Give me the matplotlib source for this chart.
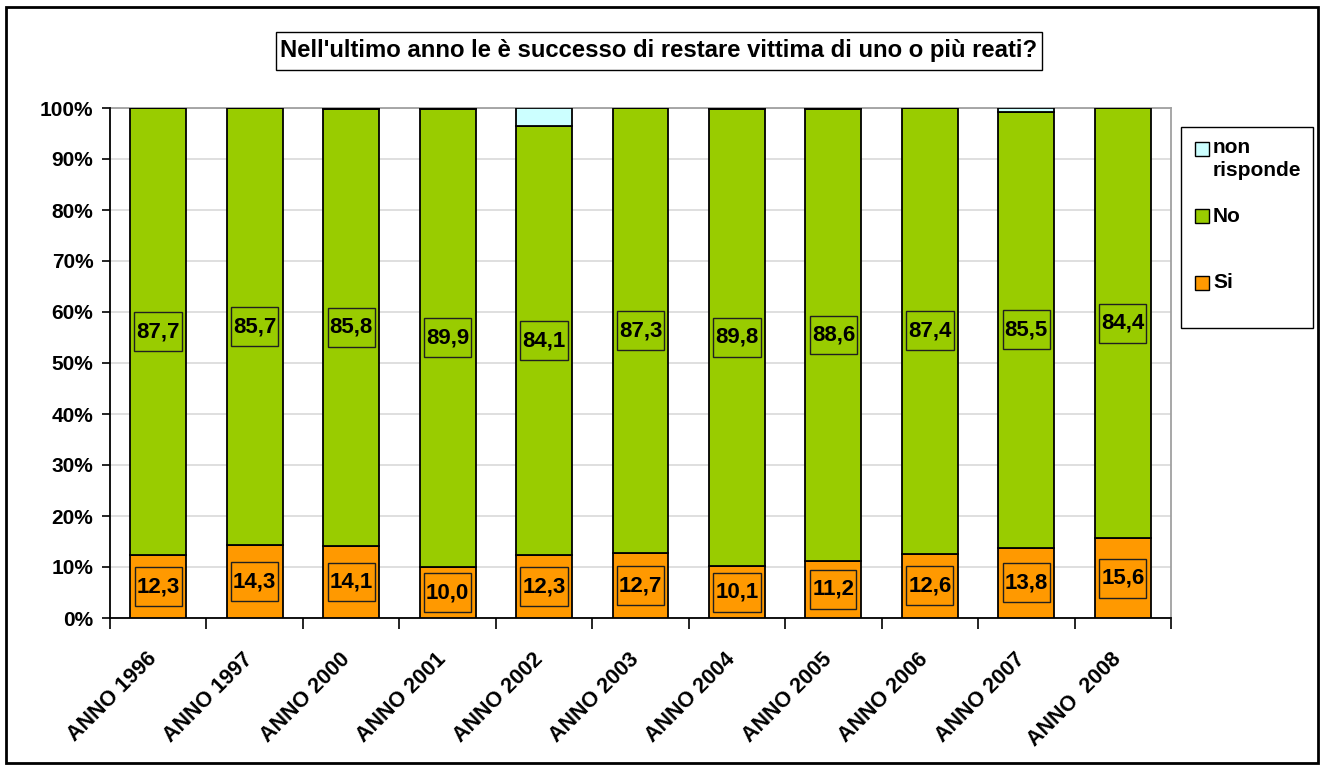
import matplotlib
matplotlib.use("Agg")
import matplotlib.pyplot as plt
from matplotlib.patches import Rectangle
from matplotlib.path import Path
import matplotlib.transforms as mtransforms
import numpy as np

plt.rcParams['font.family'] = ['Liberation Sans', 'DejaVu Sans']
plt.rcParams['font.weight'] = 'bold'

categories = ["ANNO 1996", "ANNO 1997", "ANNO 2000", "ANNO 2001", "ANNO 2002",
              "ANNO 2003", "ANNO 2004", "ANNO 2005", "ANNO 2006", "ANNO 2007", "ANNO  2008"]
si = [12.3, 14.3, 14.1, 10.0, 12.3, 12.7, 10.1, 11.2, 12.6, 13.8, 15.6]
no = [87.7, 85.7, 85.8, 89.9, 84.1, 87.3, 89.8, 88.6, 87.4, 85.5, 84.4]
non_risponde = [0.0, 0.0, 0.1, 0.1, 3.6, 0.0, 0.1, 0.2, 0.0, 0.7, 0.0]
title = "Nell'ultimo anno le è successo di restare vittima di uno o più reati?"
colors = {"Si": "#FF9900", "No": "#99CC00", "non": "#CCFFFF"}


def make_box(padx, pady):
    def box(x0, y0, width, height, mutation_size):
        px = padx * mutation_size
        py = pady * mutation_size
        x0, y0 = x0 - px, y0 - py
        x1, y1 = x0 + width + 2 * px, y0 + height + 2 * py
        return Path([(x0, y0), (x1, y0), (x1, y1), (x0, y1), (x0, y0)], closed=True)
    return box


W, H = 1322, 767
fig = plt.figure(figsize=(W / 100, H / 100), dpi=100)
ax = fig.add_axes([110 / W, 1 - 618 / H, (1171 - 110) / W, (618 - 108) / H])

x = np.arange(len(categories))
bw = 0.58
si_a = np.array(si); no_a = np.array(no); nr_a = np.array(non_risponde)
tot = si_a + no_a + nr_a
si_p = si_a / tot * 100
no_p = no_a / tot * 100
nr_p = nr_a / tot * 100

ax.bar(x, si_p, bw, color=colors["Si"], edgecolor="black", linewidth=1.3, zorder=3)
ax.bar(x, no_p, bw, bottom=si_p, color=colors["No"], edgecolor="black", linewidth=1.3, zorder=3)
ax.bar(x, nr_p, bw, bottom=si_p + no_p, color=colors["non"], edgecolor="black", linewidth=1.3, zorder=3)

lblbox = dict(boxstyle=make_box(0.09, 0.4), facecolor="none", edgecolor="#202020", linewidth=1)
for i in range(len(x)):
    ax.text(x[i], si_p[i] / 2, f"{si[i]:.1f}".replace(".", ","), ha="center", va="center",
            fontsize=16, fontweight="bold", bbox=lblbox, zorder=5)
    ax.text(x[i], si_p[i] + no_p[i] / 2, f"{no[i]:.1f}".replace(".", ","), ha="center", va="center",
            fontsize=16, fontweight="bold", bbox=lblbox, zorder=5)

ax.set_xlim(-0.5, len(categories) - 0.5)
ax.set_ylim(0, 100)
ax.set_yticks(np.arange(0, 101, 10))
ax.set_yticklabels([f"{v}%" for v in range(0, 101, 10)], fontsize=15, fontweight="bold")
ax.yaxis.grid(True, color="#d9d9d9", linewidth=1.2, zorder=0)
ax.set_axisbelow(True)

ax.set_xticks(x)
ax.set_xticklabels(categories, rotation=45, ha="right", va="top", rotation_mode="anchor",
                   fontsize=15.5, fontweight="bold")
ax.tick_params(axis="x", which="major", length=0, pad=22)
off = mtransforms.ScaledTranslation(-12 / 100, 0, fig.dpi_scale_trans)
for lbl in ax.get_xticklabels():
    lbl.set_transform(lbl.get_transform() + off)
ax.set_xticks(np.arange(-0.5, len(categories), 1.0), minor=True)
ax.tick_params(axis="x", which="minor", length=8, width=1.2, color="black", direction="out")
ax.tick_params(axis="y", which="major", length=6, width=1.2, color="black", pad=6)

for s in ["left", "bottom"]:
    ax.spines[s].set_color("black")
    ax.spines[s].set_linewidth(1.3)
ax.spines["right"].set_color("#a0a0a0")
ax.spines["top"].set_color("#a0a0a0")
ax.spines["right"].set_linewidth(1.3)
ax.spines["top"].set_linewidth(1.3)
ax.spines["top"].set_zorder(2)

# title box
fig.text(659 / W, 1 - 51 / H, title, ha="center", va="center", fontsize=17.2, fontweight="bold",
         bbox=dict(boxstyle=make_box(0.2, 0.3), facecolor="white", edgecolor="black", linewidth=1))

# legend (manual)
fig.patches.append(Rectangle((1181 / W, 1 - 328 / H), (1313 - 1181) / W, (328 - 127) / H,
                             transform=fig.transFigure, facecolor="white", edgecolor="black",
                             linewidth=1))
leg_items = [("non\nrisponde", colors["non"], 149), ("No", colors["No"], 216), ("Si", colors["Si"], 283)]
for name, col, yc in leg_items:
    fig.patches.append(Rectangle((1195 / W, 1 - (yc + 7) / H), 14 / W, 14 / H,
                                 transform=fig.transFigure, facecolor=col, edgecolor="black",
                                 linewidth=1))
    if "\n" in name:
        fig.text(1213 / W, 1 - (yc - 11) / H, name, ha="left", va="top", fontsize=15,
                 fontweight="bold", linespacing=1.3)
    else:
        fig.text(1213 / W, 1 - yc / H, name, ha="left", va="center", fontsize=15, fontweight="bold")

# outer border
fig.patches.append(Rectangle((6 / W, 1 - 763 / H), (1318 - 6) / W, (763 - 7) / H,
                             transform=fig.transFigure, facecolor="none", edgecolor="black",
                             linewidth=2))

fig.savefig("out.png", dpi=100)
